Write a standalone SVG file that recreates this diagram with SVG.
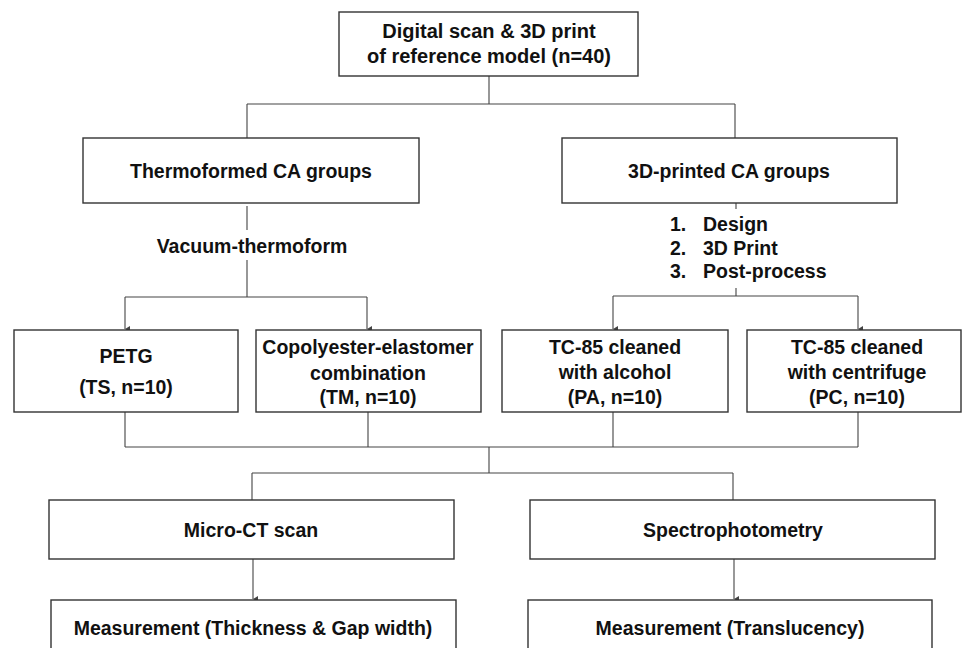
<svg xmlns="http://www.w3.org/2000/svg" width="963" height="648" viewBox="0 0 963 648">
<defs>
<marker id="arr" markerUnits="userSpaceOnUse" markerWidth="8" markerHeight="8" viewBox="0 0 8 8" refX="4" refY="8" orient="auto-start-reverse">
<path d="M1,3 L4,8 L7,3 Z" fill="#444"/>
</marker>
<style>
.box{fill:#fff;stroke:#333;stroke-width:1.4}
.t{font-family:"Liberation Sans",Arial,sans-serif;font-weight:bold;font-size:19.5px;fill:#111;text-anchor:middle}
.l{font-family:"Liberation Sans",Arial,sans-serif;font-weight:bold;font-size:19.5px;fill:#111}
.c{fill:none;stroke:#444;stroke-width:1.1}
</style>
</defs>
<rect width="963" height="648" fill="#fff"/>
<g id="connectors">
<path class="c" d="M489,76 V104 M247,104 H735 M247,104 V138 M735,104 V138"/>
<path class="c" d="M247,206 V230 M247,260 V297 M125,297 H367"/>
<path class="c" d="M125,297 V329" marker-end="url(#arr)"/>
<path class="c" d="M367,297 V329" marker-end="url(#arr)"/>
<path class="c" d="M736,203 V209 M736,288 V296 M613,296 H858"/>
<path class="c" d="M613,296 V329" marker-end="url(#arr)"/>
<path class="c" d="M858,296 V329" marker-end="url(#arr)"/>
<path class="c" d="M125,412 V447 M368,412 V447 M613,412 V447 M858,412 V447 M125,447 H858"/>
<path class="c" d="M489,447 V473 M252,473 H733 M252,473 V500 M733,473 V500"/>
<path class="c" d="M253,559 V599" marker-end="url(#arr)"/>
<path class="c" d="M734,559 V599" marker-end="url(#arr)"/>
</g>
<g id="n-top">
<rect class="box" x="339" y="12" width="299" height="64"/>
<text class="t" x="489" y="38" style="font-size:20px">Digital scan &amp; 3D print</text>
<text class="t" x="489" y="63" style="font-size:20px">of reference model (n=40)</text>
</g>
<g id="n-thermo">
<rect class="box" x="83" y="138" width="336" height="65"/>
<text class="t" x="251" y="178">Thermoformed CA groups</text>
</g>
<g id="n-vacuum">
<text class="t" x="252" y="253">Vacuum-thermoform</text>
</g>
<g id="n-printed">
<rect class="box" x="562" y="138" width="335" height="65"/>
<text class="t" x="729" y="178">3D-printed CA groups</text>
</g>
<g id="n-steps">
<text class="l" x="670" y="231">1.</text><text class="l" x="703" y="231">Design</text>
<text class="l" x="670" y="255">2.</text><text class="l" x="703" y="255">3D Print</text>
<text class="l" x="670" y="278">3.</text><text class="l" x="703" y="278">Post-process</text>
</g>
<g id="n-ts">
<rect class="box" x="14" y="330" width="224" height="82"/>
<text class="t" x="126" y="363">PETG</text>
<text class="t" x="126" y="394">(TS, n=10)</text>
</g>
<g id="n-tm">
<rect class="box" x="256" y="330" width="225" height="82"/>
<text class="t" x="368" y="354">Copolyester-elastomer</text>
<text class="t" x="368" y="380">combination</text>
<text class="t" x="368" y="404">(TM, n=10)</text>
</g>
<g id="n-pa">
<rect class="box" x="502" y="330" width="226" height="82"/>
<text class="t" x="615" y="354">TC-85 cleaned</text>
<text class="t" x="615" y="379">with alcohol</text>
<text class="t" x="615" y="404">(PA, n=10)</text>
</g>
<g id="n-pc">
<rect class="box" x="747" y="330" width="214" height="82"/>
<text class="t" x="857" y="354">TC-85 cleaned</text>
<text class="t" x="857" y="379">with centrifuge</text>
<text class="t" x="857" y="404">(PC, n=10)</text>
</g>
<g id="n-microct">
<rect class="box" x="49" y="500" width="405" height="59"/>
<text class="t" x="251" y="537">Micro-CT scan</text>
</g>
<g id="n-spectro">
<rect class="box" x="530" y="500" width="405" height="59"/>
<text class="t" x="733" y="537">Spectrophotometry</text>
</g>
<g id="n-meas1">
<rect class="box" x="51" y="600" width="405" height="70"/>
<text class="t" x="253" y="635">Measurement (Thickness &amp; Gap width)</text>
</g>
<g id="n-meas2">
<rect class="box" x="528" y="600" width="404" height="70"/>
<text class="t" x="730" y="635">Measurement (Translucency)</text>
</g>
</svg>
